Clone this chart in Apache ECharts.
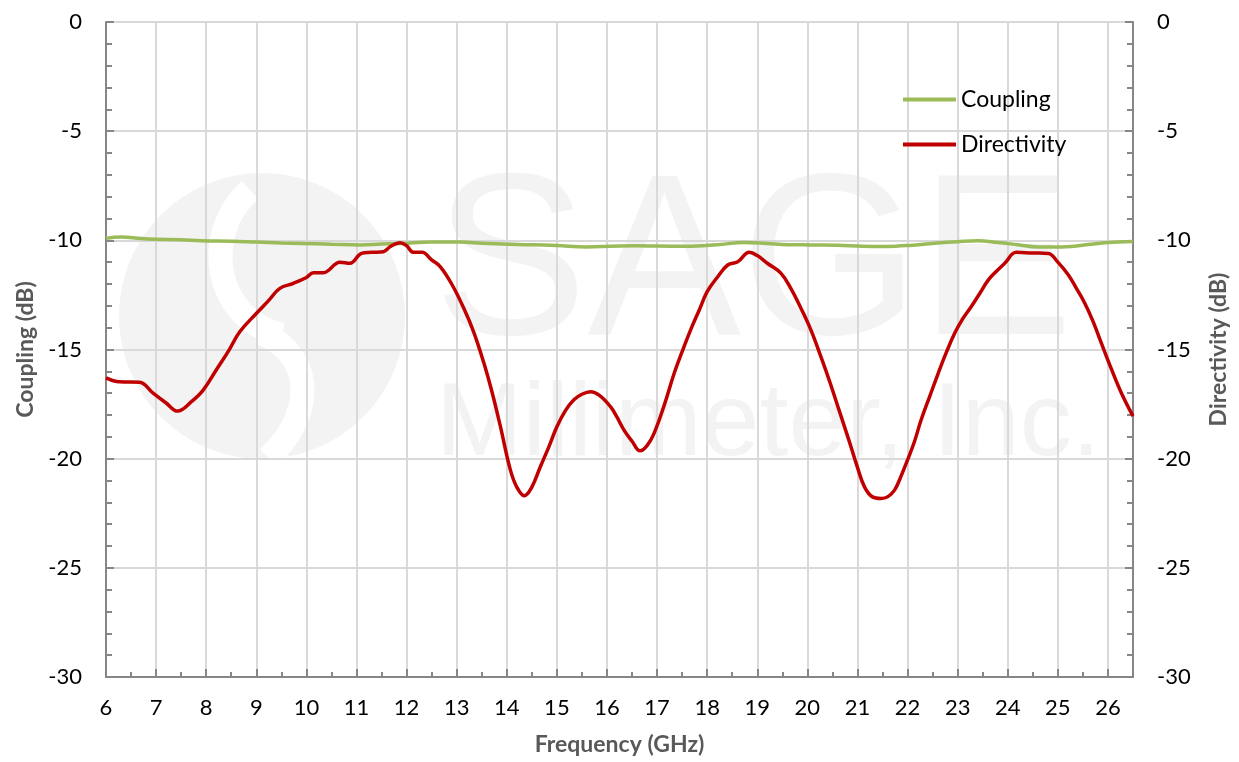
<!DOCTYPE html>
<html>
<head>
<meta charset="utf-8">
<script src="https://cdn.jsdelivr.net/npm/echarts@6/dist/echarts.min.js"></script>
<style>
html,body{margin:0;padding:0;background:#fff;}
#chart{width:1239px;height:762px;}
</style>
</head>
<body>
<div id="chart"></div>
<script>
// Frequency (GHz) and values (dB)
const directivityFreq = [6.0,6.27,6.67,6.94,7.2,7.43,7.7,7.94,8.2,8.45,8.67,9.0,9.25,9.47,9.74,10.0,10.14,10.34,10.67,10.87,11.1,11.3,11.54,11.67,11.87,12.0,12.14,12.31,12.5,12.67,12.9,13.14,13.34,13.54,13.7,13.87,14.07,14.2,14.35,14.5,14.67,14.85,15.0,15.17,15.34,15.5,15.67,15.85,16.07,16.2,16.34,16.5,16.66,16.8,16.94,17.15,17.34,17.5,17.67,17.84,18.0,18.2,18.41,18.61,18.84,19.0,19.2,19.47,19.67,19.87,20.07,20.27,20.45,20.61,20.75,20.87,21.0,21.14,21.3,21.47,21.6,21.74,21.87,22.0,22.14,22.27,22.45,22.61,22.78,22.94,23.1,23.27,23.45,23.61,23.78,23.94,24.17,24.5,24.81,25.0,25.21,25.37,25.54,25.7,25.87,26.07,26.27,26.5];
const directivityValues = [-16.3,-16.48,-16.5,-17.0,-17.45,-17.82,-17.4,-16.86,-15.94,-15.05,-14.19,-13.35,-12.75,-12.2,-11.97,-11.7,-11.48,-11.48,-11.0,-11.05,-10.6,-10.55,-10.52,-10.29,-10.11,-10.25,-10.55,-10.55,-10.9,-11.2,-12.0,-13.1,-14.2,-15.6,-16.9,-18.5,-20.5,-21.3,-21.7,-21.3,-20.37,-19.4,-18.54,-17.8,-17.3,-17.05,-16.93,-17.1,-17.62,-18.1,-18.69,-19.2,-19.64,-19.4,-18.84,-17.5,-16.1,-15.1,-14.1,-13.2,-12.35,-11.7,-11.13,-10.98,-10.55,-10.7,-11.05,-11.5,-12.2,-13.1,-14.1,-15.33,-16.5,-17.62,-18.6,-19.45,-20.4,-21.29,-21.75,-21.82,-21.75,-21.44,-20.8,-20.06,-19.2,-18.23,-17.1,-16.1,-15.1,-14.26,-13.6,-13.04,-12.4,-11.82,-11.4,-11.05,-10.55,-10.58,-10.6,-11.0,-11.59,-12.2,-12.89,-13.7,-14.72,-15.9,-17.0,-18.05];
const couplingFreq = [6.0,6.3,6.7,7.0,7.5,7.9,8.5,9.0,9.5,9.9,10.5,11.07,11.5,11.9,12.5,13.07,13.5,13.9,14.5,15.0,15.6,16.1,16.6,17.0,17.6,18.2,18.74,19.2,19.6,20.07,20.6,21.1,21.6,22.1,22.6,23.0,23.4,23.8,24.2,24.6,25.0,25.4,25.8,26.2,26.5];
const couplingValues = [-9.91,-9.85,-9.92,-9.95,-9.97,-10.02,-10.04,-10.08,-10.12,-10.14,-10.18,-10.21,-10.17,-10.14,-10.08,-10.08,-10.13,-10.17,-10.2,-10.24,-10.3,-10.27,-10.25,-10.26,-10.27,-10.2,-10.1,-10.15,-10.2,-10.21,-10.22,-10.27,-10.28,-10.22,-10.12,-10.06,-10.02,-10.1,-10.2,-10.3,-10.3,-10.25,-10.14,-10.08,-10.05];
const seriesNames = ['Coupling','Directivity'];
const yTicks = [0,-5,-10,-15,-20,-25,-30];

const FONT = 'Lato';
const axisGrey = '#868686';
const gridGrey = '#d9d9d9';

function pairs(xs, ys){ return xs.map((x,i)=>[x, ys[i]]); }

const chart = echarts.init(document.getElementById('chart'), null, {renderer:'canvas'});

function yAxisCfg(name, pos){
  return {
    type:'value', position:pos, min:-30, max:0, interval:5,
    name:name, nameLocation:'middle', nameRotate:90, nameGap: pos==='left'?69:74,
    nameTextStyle:{fontFamily:FONT, fontWeight:'bold', fontSize:23, color:'#595959'},
    axisLine:{show:true, onZero:false, lineStyle:{color:axisGrey, width:2}},
    axisTick:{show:true, inside:true, length:8, lineStyle:{color:axisGrey, width:2}},
    minorTick:{show:true, splitNumber:5, length:6, lineStyle:{color:axisGrey, width:2}},
    axisLabel:{fontFamily:FONT, fontSize:22, color:'#000', margin:24,
      formatter:function(v){ return yTicks.indexOf(v)>=0 ? String(v) : ''; }},
    splitLine:{show: pos==='left', lineStyle:{color:gridGrey, width:2}}
  };
}

chart.setOption({
  animation:false,
  backgroundColor:'#fff',
  grid:{left:106, right:106, top:22, bottom:85, containLabel:false},
  graphic:{elements:[
    {type:'circle', z:-10, silent:true, shape:{cx:262, cy:316, r:143}, style:{fill:'#f3f3f3'}},
    {type:'bezierCurve', z:-9, silent:true, shape:{x1:250, y1:190, cpx1:200, cpy1:235, cpx2:215, cpy2:320, x2:282, y2:335}, style:{fill:null, stroke:'#ffffff', lineWidth:24}},
    {type:'bezierCurve', z:-9, silent:true, shape:{x1:262, y1:333, cpx1:320, cpy1:360, cpx2:310, cpy2:420, x2:268, y2:458}, style:{fill:null, stroke:'#ffffff', lineWidth:24}},
    {type:'text', z:-9, silent:true, left:434, top:156, style:{text:'SAGE', font:'230px "Liberation Sans"', fill:'#f3f3f3'}},
    {type:'text', z:-9, silent:true, left:436, top:374, style:{text:'Millimeter, Inc.', font:'104px "Liberation Sans"', fill:'#f3f3f3'}}
  ]},
  legend:{
    orient:'vertical', left:898, top:80, itemWidth:53, itemHeight:4, itemGap:16,
    icon:'rect',
    textStyle:{fontFamily:FONT, fontSize:23, color:'#000', lineHeight:29, padding:[0,0,0,0]},
    data:seriesNames
  },
  xAxis:{
    type:'value', min:6, max:26.5, interval:1,
    name:'Frequency (GHz)', nameLocation:'middle', nameGap:56,
    nameTextStyle:{fontFamily:FONT, fontWeight:'bold', fontSize:23, color:'#595959'},
    axisLine:{show:true, onZero:false, lineStyle:{color:axisGrey, width:2}},
    axisTick:{show:true, inside:true, length:8, lineStyle:{color:axisGrey, width:2}},
    minorTick:{show:true, splitNumber:2, length:5, lineStyle:{color:axisGrey, width:2}},
    axisLabel:{fontFamily:FONT, fontSize:22, color:'#000', margin:20, showMaxLabel:false,
      formatter:function(v){ return Number.isInteger(v) ? String(v) : ''; }},
    splitLine:{show:true, lineStyle:{color:gridGrey, width:2}}
  },
  yAxis:[yAxisCfg('Coupling (dB)','left'), yAxisCfg('Directivity (dB)','right')],
  series:[
    {name:'Coupling', type:'line', yAxisIndex:0, data:pairs(couplingFreq,couplingValues), smooth:0.4, showSymbol:false, symbol:'none',
      lineStyle:{color:'#9bbb59', width:3.5}, itemStyle:{color:'#9bbb59'}},
    {name:'Directivity', type:'line', yAxisIndex:1, data:pairs(directivityFreq,directivityValues), smooth:0.4, showSymbol:false, symbol:'none',
      lineStyle:{color:'#c00000', width:3.5}, itemStyle:{color:'#c00000'}}
  ]
});
</script>
</body>
</html>
